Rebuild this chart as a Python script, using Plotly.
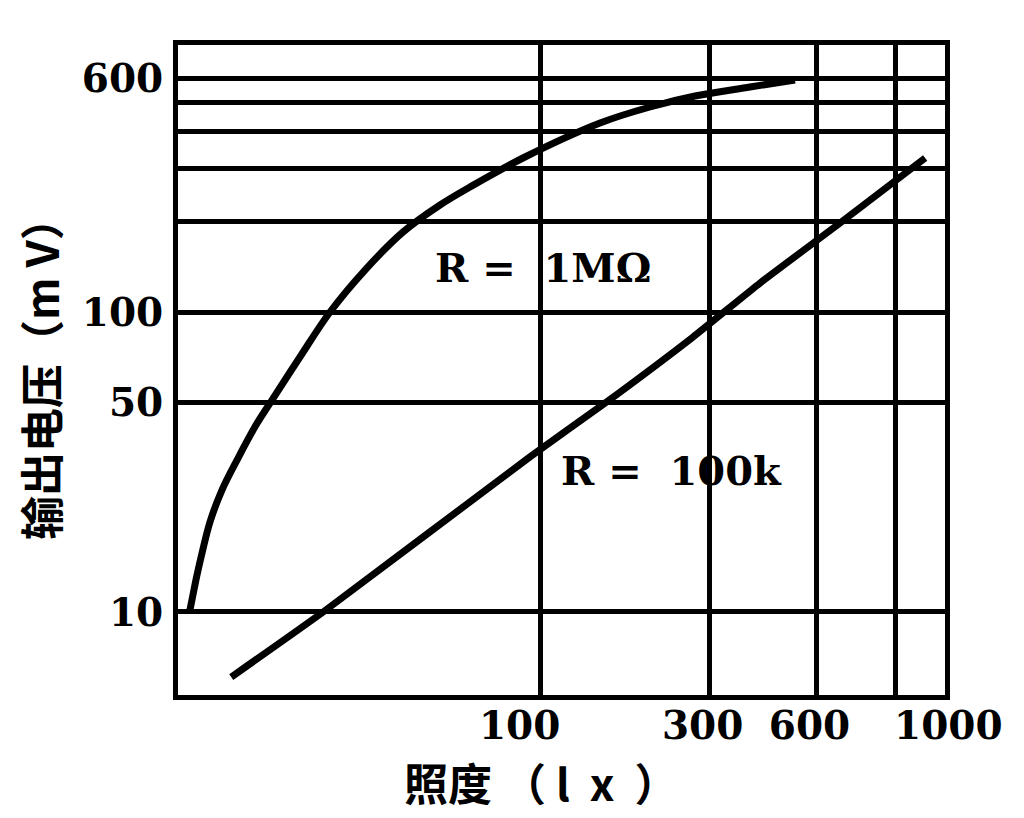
import plotly.graph_objects as go

# Data (illuminance lx, output voltage mV)
lux_1m = [10.3, 10.53, 10.81, 11.17, 11.76, 12.71, 14.11, 15.85, 17.36, 21.08, 25.62, 32.14,
          41.13, 52.29, 63.5, 90.7, 147.6, 204.1, 273.3, 390.4, 522.7]
mv_1m = [10.0, 11.4, 13.28, 15.73, 19.95, 25.5, 32.6, 42.0, 49.7, 70.8, 100, 138,
         184.8, 227.4, 261, 328.6, 426.6, 482.3, 524.8, 562.3, 593.4]

lux_100k = [13.5, 24.5, 93.7, 150, 270, 417, 700, 1216]
mv_100k = [6.07, 10.0, 32.9, 49, 82.6, 125, 198, 326]

NB = "\u00a0"
x_tickvals = [100, 300, 600, 1000]
x_ticktext = ["100" + NB * 3, "300" + NB, "600" + NB, ""]
x_last_label = "1000"   # drawn beside its gridline, as in the reference
y_tickvals = [10, 50, 100, 200, 300, 400, 500, 600]
y_ticktext = ["10", "50", "100", "", "", "", "", "600"]

x_range = [0.9803, 3.1408]
y_range = [0.7233, 2.89]

serif = "DejaVu Serif, serif"
cjk = "Noto Sans CJK SC, Noto Sans CJK JP, sans-serif"

fig = go.Figure()
fig.add_trace(go.Scatter(x=lux_1m, y=mv_1m, mode="lines",
                         line=dict(color="black", width=7, shape="spline", smoothing=1.0),
                         showlegend=False, hoverinfo="skip"))
fig.add_trace(go.Scatter(x=lux_100k, y=mv_100k, mode="lines",
                         line=dict(color="black", width=7, shape="spline", smoothing=0.5),
                         showlegend=False, hoverinfo="skip"))

tick_font = dict(family=serif, size=39, color="black", weight="bold")
axis_common = dict(showline=True, linecolor="black", linewidth=5, mirror=True,
                   showgrid=True, gridcolor="black", gridwidth=5,
                   ticks="", zeroline=False, tickfont=tick_font)

fig.update_xaxes(type="log", range=x_range, tickmode="array", tickangle=0,
                 tickvals=x_tickvals, ticktext=x_ticktext, ticklabelstandoff=-8, **axis_common)
fig.update_yaxes(type="log", range=y_range, tickmode="array",
                 tickvals=y_tickvals, ticktext=y_ticktext, ticklabelstandoff=2, **axis_common)

annos = [
    dict(text=x_last_label, x=1.0046, y=-0.0461, font=tick_font),
    dict(text=f"R{NB}={NB}{NB}1MΩ", x=0.476, y=0.657, font=dict(family=serif, size=40, color="black", weight="bold")),
    dict(text=f"R{NB}={NB}{NB}100k", x=0.644, y=0.346, font=dict(family=serif, size=40, color="black", weight="bold")),
    dict(text=f"输出电压（m{NB}V）", x=-0.18, y=0.503, textangle=-90,
         font=dict(family=cjk, size=44, color="black", weight="bold")),
    dict(text=f"照度{NB}（{NB}l{NB}{NB}x{NB}{NB}）", x=0.474, y=-0.1338,
         font=dict(family=cjk, size=44, color="black", weight="bold")),
]
for a in annos:
    fig.add_annotation(xref="paper", yref="paper", showarrow=False,
                       xanchor="center", yanchor="middle", **a)

fig.update_layout(width=1024, height=818,
                  margin=dict(l=170, r=87, t=37, b=131),
                  paper_bgcolor="white", plot_bgcolor="white")

fig.write_html("out.html")
